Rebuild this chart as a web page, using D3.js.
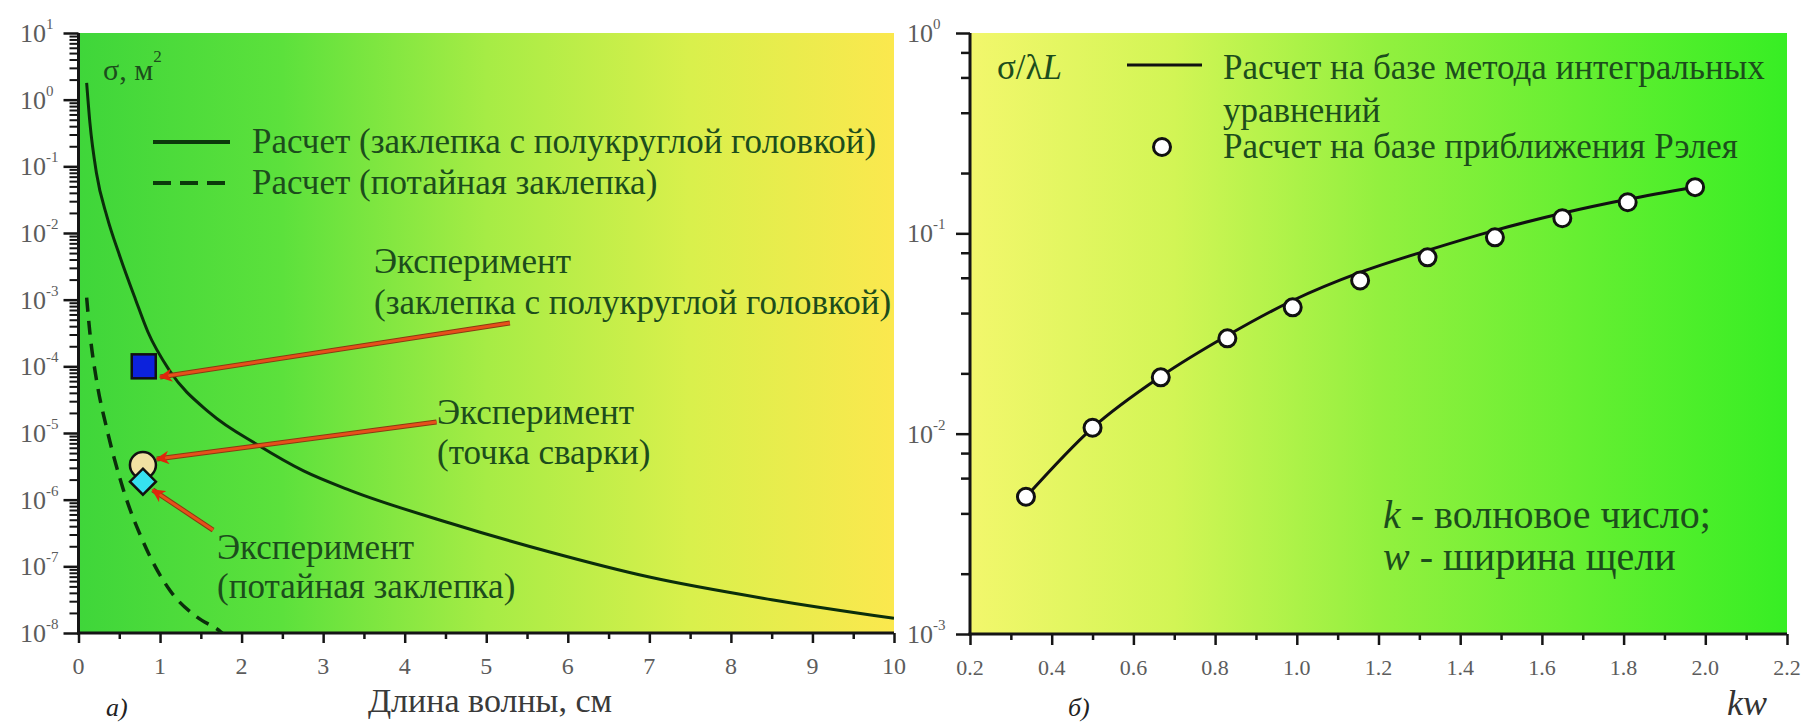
<!DOCTYPE html>
<html>
<head>
<meta charset="utf-8">
<script src="https://cdn.jsdelivr.net/npm/d3@7"></script>
<style>
  body { margin: 0; background: #fff; }
</style>
</head>
<body>
<svg id="fig" width="1805" height="725" style="display:block"></svg>
<script>
// ---- panel a) : sigma vs wavelength ----
var lambdaSolid = [0.1, 0.14, 0.22, 0.35, 0.51, 0.7, 0.85, 1.12, 1.61, 2.2, 2.76, 3.33, 4.55, 5.78, 7.0, 8.5, 10];
var sigmaSolid = [1.78, 0.447, 0.0794, 0.0174, 0.00437, 1.0e-3, 3.3e-4, 8.5e-5, 2.0e-5, 6.6e-6, 2.7e-6, 1.38e-6, 4.47e-7, 1.64e-7, 6.9e-8, 3.16e-8, 1.66e-8];
var lambdaDashed = [0.1, 0.14, 0.22, 0.35, 0.55, 0.8, 1.12, 1.45, 1.74, 1.85];
var sigmaDashed = [1.07e-3, 3.16e-4, 6.3e-5, 1.12e-5, 1.41e-6, 2.24e-7, 4.37e-8, 1.74e-8, 1.05e-8, 7.9e-9];
var expLambda = [0.8, 0.79, 0.79];
var expSigma = [1.0e-4, 3.3e-6, 1.86e-6];
var expShape = ["square", "circle", "diamond"];
var expFill = ["#0c22dc", "#f1e2a2", "#36e2f0"];
// arrows: [tail lambda, tail sigma, tip lambda, tip sigma]
var arrows = [
  [5.29, 4.47e-4, 1.0, 6.9e-5],
  [4.39, 1.46e-5, 0.96, 4.07e-6],
  [1.65, 3.5e-7, 0.91, 1.40e-6]
];
var xTicksA = [0, 1, 2, 3, 4, 5, 6, 7, 8, 9, 10];
var yExpA = [1, 0, -1, -2, -3, -4, -5, -6, -7, -8];

// ---- panel б) : sigma/(lambda L) vs kw ----
var kw = [0.337, 0.50, 0.667, 0.83, 0.99, 1.155, 1.32, 1.485, 1.65, 1.81, 1.975];
var integralEq = [0.00484, 0.0107, 0.0193, 0.0309, 0.0462, 0.0638, 0.0822, 0.1035, 0.126, 0.148, 0.170];
var rayleigh = [0.00484, 0.0107, 0.0191, 0.0299, 0.0427, 0.0582, 0.0759, 0.0955, 0.119, 0.143, 0.170];
var xTicksB = [0.2, 0.4, 0.6, 0.8, 1.0, 1.2, 1.4, 1.6, 1.8, 2.0, 2.2];
var yExpB = [0, -1, -2, -3];

var SERIF = "'Liberation Serif'";
var svg = d3.select("#fig");
var defs = svg.append("defs");

// every text goes through here so the serif face is set on the element itself
function txt(parent, x, y, size, color) {
  return parent.append("text").attr("x", x).attr("y", y)
    .style("font-family", SERIF).style("font-size", size + "px")
    .attr("fill", color);
}

function gradient(id, stops) {
  var g = defs.append("linearGradient").attr("id", id)
    .attr("x1", "0%").attr("x2", "100%").attr("y1", "0%").attr("y2", "0%");
  stops.forEach(s => g.append("stop").attr("offset", s[0]).attr("stop-color", s[1]));
}
gradient("bgA", [[0, "#3fd63a"], [0.25, "#5ce13c"], [0.5, "#a6ec45"], [0.75, "#d9f04c"], [1, "#fbe84e"]]);
gradient("bgB", [[0, "#f2f76c"], [0.25, "#d2f555"], [0.5, "#93f03f"], [1, "#37ee24"]]);

var textGreen = "#1c4d1c";
var tickGray = "#5c5c5c";

// ================= panel a =================
var xA = d3.scaleLinear().domain([0, 10]).range([78.5, 894]);
var yA = d3.scaleLog().domain([1e-8, 10]).range([633, 33]);

svg.append("rect").attr("x", xA(0)).attr("y", yA(10))
  .attr("width", xA(10) - xA(0)).attr("height", yA(1e-8) - yA(10))
  .attr("fill", "url(#bgA)");

defs.append("clipPath").attr("id", "clipA").append("rect")
  .attr("x", xA(0)).attr("y", yA(10))
  .attr("width", xA(10) - xA(0)).attr("height", yA(1e-8) - yA(10));

var minorA = [];
for (var e = -8; e < 1; e++) for (var m = 2; m <= 9; m++) minorA.push(m * Math.pow(10, e));

function styleAxis(g, w) {
  g.selectAll("line").attr("stroke", "#151515").attr("stroke-width", w);
  g.select(".domain").remove();
}

svg.append("g").attr("transform", `translate(${xA(0)},0)`)
  .call(d3.axisLeft(yA).tickValues(minorA).tickSize(9).tickFormat(""))
  .call(g => styleAxis(g, 2));
svg.append("g").attr("transform", `translate(${xA(0)},0)`)
  .call(d3.axisLeft(yA).tickValues(yExpA.map(e => Math.pow(10, e))).tickSize(15).tickFormat(""))
  .call(g => styleAxis(g, 2.5));
svg.append("g").attr("transform", `translate(0,${yA(1e-8)})`)
  .call(d3.axisBottom(xA).tickValues(d3.range(0.5, 10, 1)).tickSize(6).tickFormat(""))
  .call(g => styleAxis(g, 2.5));
svg.append("g").attr("transform", `translate(0,${yA(1e-8)})`)
  .call(d3.axisBottom(xA).tickValues(xTicksA).tickSize(10).tickFormat(""))
  .call(g => styleAxis(g, 2.5));

svg.append("line").attr("x1", xA(0)).attr("x2", xA(0)).attr("y1", yA(10)).attr("y2", yA(1e-8) + 1.5)
  .attr("stroke", "#151515").attr("stroke-width", 3);
svg.append("line").attr("x1", xA(0) - 1.5).attr("x2", xA(10)).attr("y1", yA(1e-8)).attr("y2", yA(1e-8))
  .attr("stroke", "#151515").attr("stroke-width", 3);

yExpA.forEach(function(e) {
  var t = txt(svg, 20, yA(Math.pow(10, e)) + 9, 26, tickGray);
  t.append("tspan").text("10");
  t.append("tspan").attr("dy", -13).style("font-size", "15px").text(e);
});
xTicksA.forEach(function(v) {
  txt(svg, xA(v), 674, 24, tickGray).attr("text-anchor", "middle").text(v);
});

// curves
var plotA = svg.append("g").attr("clip-path", "url(#clipA)");
var lineA = d3.line().x(d => xA(d[0])).y(d => yA(d[1])).curve(d3.curveMonotoneX);
plotA.append("path").datum(d3.zip(lambdaSolid, sigmaSolid)).attr("d", lineA)
  .attr("fill", "none").attr("stroke", "#0b2e0b").attr("stroke-width", 3);
plotA.append("path").datum(d3.zip(lambdaDashed, sigmaDashed)).attr("d", lineA)
  .attr("fill", "none").attr("stroke", "#0b2e0b").attr("stroke-width", 3.5)
  .attr("stroke-dasharray", "14,9");

// arrows
defs.append("marker").attr("id", "head").attr("viewBox", "0 0 10 10")
  .attr("refX", 9).attr("refY", 5).attr("markerWidth", 4.5).attr("markerHeight", 4.5)
  .attr("markerUnits", "strokeWidth").attr("orient", "auto")
  .append("path").attr("d", "M0,0 L10,5 L0,10 L3,5 Z").attr("fill", "#e0260c");
arrows.forEach(function(a) {
  svg.append("line").attr("x1", xA(a[0])).attr("y1", yA(a[1])).attr("x2", xA(a[2])).attr("y2", yA(a[3]))
    .attr("stroke", "#8a3a12").attr("stroke-width", 5);
  svg.append("line").attr("x1", xA(a[0])).attr("y1", yA(a[1])).attr("x2", xA(a[2])).attr("y2", yA(a[3]))
    .attr("stroke", "#e6501a").attr("stroke-width", 3).attr("marker-end", "url(#head)");
});

// experiment markers
expLambda.forEach(function(l, i) {
  var cx = xA(l), cy = yA(expSigma[i]);
  var mk;
  if (expShape[i] === "square") {
    mk = svg.append("rect").attr("x", cx - 12).attr("y", cy - 12).attr("width", 24).attr("height", 24);
  } else if (expShape[i] === "circle") {
    mk = svg.append("circle").attr("cx", cx).attr("cy", cy).attr("r", 13);
  } else {
    mk = svg.append("path").attr("d", `M${cx},${cy - 13} L${cx + 13},${cy} L${cx},${cy + 13} L${cx - 13},${cy} Z`);
  }
  mk.attr("fill", expFill[i]).attr("stroke", "#111").attr("stroke-width", 2.5);
});

// texts panel a
var sig = txt(svg, 103, 80, 30, textGreen);
sig.append("tspan").text("σ, м");
sig.append("tspan").attr("dy", -18).style("font-size", "17px").text("2");

svg.append("line").attr("x1", 153).attr("x2", 230).attr("y1", 142).attr("y2", 142)
  .attr("stroke", "#0b3a0b").attr("stroke-width", 4);
svg.append("line").attr("x1", 153).attr("x2", 230).attr("y1", 183).attr("y2", 183)
  .attr("stroke", "#0b3a0b").attr("stroke-width", 4).attr("stroke-dasharray", "18,9");

function label(x, y, size, str) {
  return txt(svg, x, y, size, textGreen).text(str);
}
label(252, 153, 35, "Расчет (заклепка с полукруглой головкой)");
label(252, 194, 35, "Расчет (потайная заклепка)");
label(374, 273, 35, "Эксперимент");
label(374, 314, 35, "(заклепка с полукруглой головкой)");
label(437, 424, 35, "Эксперимент");
label(437, 464, 35, "(точка сварки)");
label(217, 559, 35, "Эксперимент");
label(217, 598, 35, "(потайная заклепка)");
txt(svg, 490, 712, 34, "#3a3a3a").attr("text-anchor", "middle").text("Длина волны, см");
txt(svg, 106, 716, 26, "#222").style("font-style", "italic").text("а)");

// ================= panel б =================
var xB = d3.scaleLinear().domain([0.2, 2.2]).range([970, 1787]);
var yB = d3.scaleLog().domain([1e-3, 1]).range([634, 33]);

svg.append("rect").attr("x", xB(0.2)).attr("y", yB(1))
  .attr("width", xB(2.2) - xB(0.2)).attr("height", yB(1e-3) - yB(1))
  .attr("fill", "url(#bgB)");

var minorB = [];
for (var e2 = -3; e2 < 0; e2++) [2, 4, 6, 8].forEach(m => minorB.push(m * Math.pow(10, e2)));

svg.append("g").attr("transform", `translate(${xB(0.2)},0)`)
  .call(d3.axisLeft(yB).tickValues(minorB).tickSize(9).tickFormat(""))
  .call(g => styleAxis(g, 2.5));
svg.append("g").attr("transform", `translate(${xB(0.2)},0)`)
  .call(d3.axisLeft(yB).tickValues(yExpB.map(e => Math.pow(10, e))).tickSize(14).tickFormat(""))
  .call(g => styleAxis(g, 2.5));
svg.append("g").attr("transform", `translate(0,${yB(1e-3)})`)
  .call(d3.axisBottom(xB).tickValues(d3.range(0.3, 2.2, 0.2)).tickSize(6).tickFormat(""))
  .call(g => styleAxis(g, 2.5));
svg.append("g").attr("transform", `translate(0,${yB(1e-3)})`)
  .call(d3.axisBottom(xB).tickValues(xTicksB).tickSize(11).tickFormat(""))
  .call(g => styleAxis(g, 2.5));

svg.append("line").attr("x1", xB(0.2)).attr("x2", xB(0.2)).attr("y1", yB(1)).attr("y2", yB(1e-3) + 1.5)
  .attr("stroke", "#151515").attr("stroke-width", 3);
svg.append("line").attr("x1", xB(0.2) - 1.5).attr("x2", xB(2.2)).attr("y1", yB(1e-3)).attr("y2", yB(1e-3))
  .attr("stroke", "#151515").attr("stroke-width", 3);

yExpB.forEach(function(e) {
  var t = txt(svg, 907, yB(Math.pow(10, e)) + 9, 26, tickGray);
  t.append("tspan").text("10");
  t.append("tspan").attr("dy", -13).style("font-size", "15px").text(e);
});
xTicksB.forEach(function(v) {
  txt(svg, xB(v), 675, 22, tickGray).attr("text-anchor", "middle").text(d3.format(".1f")(v));
});

var lineB = d3.line().x(d => xB(d[0])).y(d => yB(d[1])).curve(d3.curveMonotoneX);
svg.append("path").datum(d3.zip(kw, integralEq)).attr("d", lineB)
  .attr("fill", "none").attr("stroke", "#111").attr("stroke-width", 3);
svg.selectAll(".ray").data(d3.zip(kw, rayleigh)).enter().append("circle")
  .attr("cx", d => xB(d[0])).attr("cy", d => yB(d[1])).attr("r", 8.5)
  .attr("fill", "#fff").attr("stroke", "#111").attr("stroke-width", 3);

// texts panel б
var sl = txt(svg, 997, 79, 35, textGreen);
sl.append("tspan").text("σ/λ");
sl.append("tspan").style("font-style", "italic").text("L");

svg.append("line").attr("x1", 1127).attr("x2", 1202).attr("y1", 65).attr("y2", 65)
  .attr("stroke", "#111").attr("stroke-width", 3);
svg.append("circle").attr("cx", 1162).attr("cy", 147).attr("r", 8.5)
  .attr("fill", "#fff").attr("stroke", "#111").attr("stroke-width", 3);
label(1223, 79, 35, "Расчет на базе метода интегральных");
label(1223, 122, 35, "уравнений");
label(1223, 158, 35, "Расчет на базе приближения Рэлея");

var k1 = txt(svg, 1383, 528, 40, textGreen);
k1.append("tspan").style("font-style", "italic").text("k");
k1.append("tspan").text(" - волновое число;");
var w1 = txt(svg, 1383, 570, 40, textGreen);
w1.append("tspan").style("font-style", "italic").text("w");
w1.append("tspan").text(" - ширина щели");

txt(svg, 1727, 715, 36, "#333").style("font-style", "italic").text("kw");
txt(svg, 1068, 716, 26, "#222").style("font-style", "italic").text("б)");
</script>
</body>
</html>
